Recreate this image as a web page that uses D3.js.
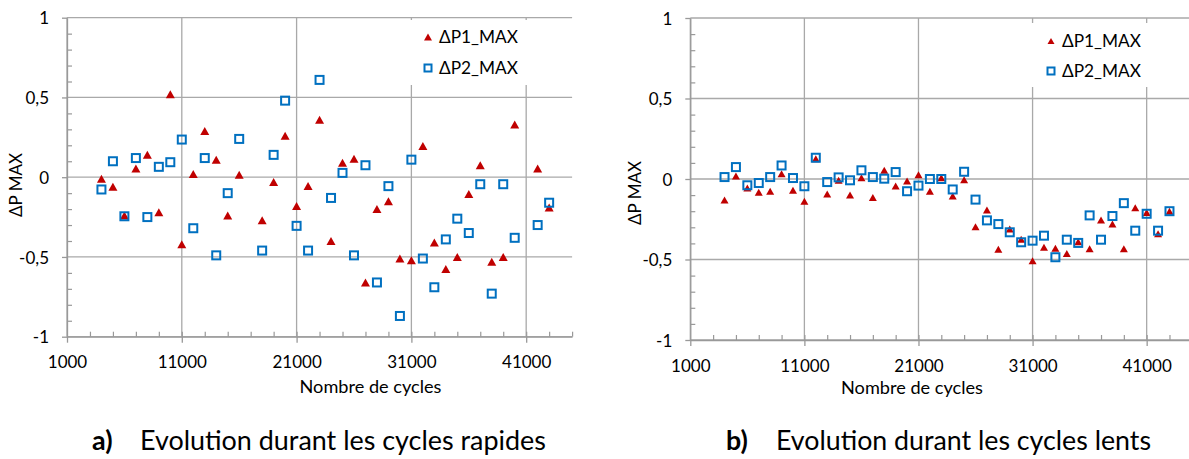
<!DOCTYPE html>
<html>
<head>
<meta charset="utf-8">
<script src="https://cdn.jsdelivr.net/npm/d3@7"></script>
<style>
  html, body { margin: 0; padding: 0; background: #fff; }
  svg { display: block; font-family: Lato, "Open Sans", sans-serif; }
</style>
</head>
<body>
<svg id="chart" width="1189" height="459"></svg>
<script>
// ---------- data ----------
const xTickValues = [1000, 11000, 21000, 31000, 41000];
const yTickValues = [-1, -0.5, 0, 0.5, 1];
const seriesNames = ["\u0394P1_MAX", "\u0394P2_MAX"];
const xTitle = "Nombre de cycles";
const yTitle = "\u0394P MAX";

// (a) fast cycles
const cyclesA = [4000, 5000, 6000, 7000, 8000, 9000, 10000, 11000, 12000, 13000, 14000, 15000, 16000,
  18000, 19000, 20000, 21000, 22000, 23000, 24000, 25000, 26000, 27000, 28000, 29000, 30000,
  31000, 32000, 33000, 34000, 35000, 36000, 37000, 38000, 39000, 40000, 42000, 43000];
const p1A = [-0.01, -0.06, -0.24, 0.055, 0.14, -0.22, 0.52, -0.42, 0.02, 0.29, 0.11, -0.24, 0.015,
  -0.27, -0.03, 0.26, -0.18, -0.055, 0.36, -0.40, 0.09, 0.115, -0.66, -0.20, -0.15, -0.51,
  -0.52, 0.195, -0.41, -0.575, -0.50, -0.105, 0.075, -0.53, -0.50, 0.33, 0.055, -0.19];
const p2A = [-0.077, 0.10, -0.245, 0.12, -0.25, 0.065, 0.094, 0.236, -0.32, 0.12, -0.49, -0.10, 0.24,
  -0.46, 0.14, 0.48, -0.305, -0.46, 0.61, -0.13, 0.027, -0.49, 0.075, -0.66, -0.056, -0.87,
  0.11, -0.51, -0.69, -0.39, -0.26, -0.35, -0.044, -0.73, -0.044, -0.38, -0.30, -0.16];

// (b) slow cycles
const cyclesB = [4000, 5000, 6000, 7000, 8000, 9000, 10000, 11000, 12000, 13000, 14000, 15000, 16000,
  17000, 18000, 19000, 20000, 21000, 22000, 23000, 24000, 25000, 26000, 27000, 28000, 29000,
  30000, 31000, 32000, 33000, 34000, 35000, 36000, 37000, 38000, 39000, 40000, 41000, 42000, 43000];
const p1B = [-0.13, 0.019, -0.056, -0.082, -0.076, 0.033, -0.07, -0.138, 0.126, -0.093, -0.008, -0.10, 0.008,
  -0.115, 0.054, -0.043, -0.012, 0.027, -0.076, 0.007, -0.105, -0.004, -0.296, -0.193, -0.436, -0.311,
  -0.374, -0.508, -0.424, -0.43, -0.463, -0.389, -0.434, -0.255, -0.28, -0.434, -0.179, -0.208, -0.34, -0.20];
const p2B = [0.012, 0.074, -0.039, -0.025, 0.012, 0.084, 0.006, -0.045, 0.132, -0.019, 0.01, -0.008, 0.054,
  0.012, 0.002, 0.043, -0.076, -0.041, 0.0, 0.0, -0.065, 0.045, -0.128, -0.257, -0.28, -0.331,
  -0.393, -0.383, -0.352, -0.486, -0.377, -0.397, -0.226, -0.377, -0.23, -0.15, -0.321, -0.216, -0.321, -0.20];

const captionA = ["a)", "Evolution durant les cycles rapides"];
const captionB = ["b)", "Evolution durant les cycles lents"];

// ---------- drawing ----------
const svg = d3.select("#chart");
const RED = "#c00000", BLUE = "#0070c0", GRID = "#a9a9a9", AXIS = "#999999";

function fitWidth(sel, target) {
  const node = sel.node();
  const fs = parseFloat(sel.attr("font-size"));
  const w = node.getComputedTextLength();
  if (w > 0) sel.attr("font-size", (fs * target / w).toFixed(2));
}

function fmtY(d) { return d === 0 ? "0" : String(d).replace(".", ","); }

function triPath(cx, cy, w, h) {
  return `M${cx},${cy - h / 2}L${cx + w / 2},${cy + h / 2}L${cx - w / 2},${cy + h / 2}Z`;
}

function drawChart(cfg) {
  const g = svg.append("g");
  const x = d3.scaleLinear().domain([1000, 45000]).range([cfg.x0, cfg.x1]);
  const y = d3.scaleLinear().domain([-1, 1]).range([cfg.y1, cfg.y0]);

  // gridlines
  g.append("g").selectAll("line").data(yTickValues).join("line")
    .attr("x1", cfg.x0).attr("x2", cfg.x1)
    .attr("y1", d => y(d)).attr("y2", d => y(d))
    .attr("stroke", GRID).attr("stroke-width", 1.3);
  g.append("g").selectAll("line").data(xTickValues).join("line")
    .attr("x1", d => x(d)).attr("x2", d => x(d))
    .attr("y1", cfg.y0).attr("y2", cfg.y1)
    .attr("stroke", GRID).attr("stroke-width", 1.3);

  // minor ticks (inside)
  const xMinor = d3.range(3000, 45001, 2000);
  const yMinor = d3.range(-9, 10).filter(v => v % 5 !== 0).map(v => v / 10);
  g.append("g").attr("transform", `translate(0,${cfg.y1})`)
    .call(d3.axisBottom(x).tickValues(xMinor).tickSize(-5).tickSizeOuter(0).tickFormat(""))
    .call(s => s.select(".domain").remove())
    .call(s => s.selectAll("line").attr("stroke", AXIS).attr("stroke-width", 1.2));
  g.append("g").attr("transform", `translate(${cfg.x0},0)`)
    .call(d3.axisLeft(y).tickValues(yMinor).tickSize(-5).tickSizeOuter(0).tickFormat(""))
    .call(s => s.select(".domain").remove())
    .call(s => s.selectAll("line").attr("stroke", AXIS).attr("stroke-width", 1.2));

  // major axes
  g.append("g").attr("transform", `translate(0,${cfg.y1})`)
    .call(d3.axisBottom(x).tickValues(xTickValues).tickSize(6).tickSizeOuter(0).tickFormat(d3.format("d")))
    .call(s => s.select(".domain").attr("stroke", AXIS).attr("stroke-width", 1.3))
    .call(s => s.selectAll(".tick line").attr("stroke", AXIS).attr("stroke-width", 1.3))
    .call(s => s.selectAll("text").attr("font-family", "Lato").attr("font-size", 17)
      .attr("fill", "#000").attr("dy", 0).attr("y", cfg.xLabelBase));
  g.append("g").attr("transform", `translate(${cfg.x0},0)`)
    .call(d3.axisLeft(y).tickValues(yTickValues).tickSize(5).tickSizeOuter(0).tickFormat(fmtY).tickPadding(13))
    .call(s => s.select(".domain").attr("stroke", AXIS).attr("stroke-width", 1.3))
    .call(s => s.selectAll(".tick line").attr("stroke", AXIS).attr("stroke-width", 1.3))
    .call(s => s.selectAll("text").attr("font-family", "Lato").attr("font-size", 17)
      .attr("fill", "#000").attr("dy", "0.36em"));

  // axis titles
  const xt = g.append("text").attr("x", cfg.xTitleX).attr("y", cfg.xTitleY)
    .attr("font-size", 17).attr("text-anchor", "middle").attr("fill", "#000").text(xTitle);
  fitWidth(xt, 142);
  const yt = g.append("text").attr("transform", `translate(${cfg.yTitleX},${cfg.yTitleY}) rotate(-90)`)
    .attr("font-size", 16).attr("text-anchor", "middle").attr("fill", "#000").text(yTitle);
  fitWidth(yt, 64);

  // legend box
  g.append("rect").attr("x", cfg.leg.bx).attr("y", cfg.leg.by).attr("width", cfg.leg.bw).attr("height", cfg.leg.bh)
    .attr("fill", "#fff");

  // series 1 triangles
  g.append("g").selectAll("path").data(cfg.cycles).join("path")
    .attr("d", (c, i) => triPath(x(c), y(cfg.p1[i]), cfg.tw, cfg.th))
    .attr("fill", RED);
  // series 2 squares
  g.append("g").selectAll("rect").data(cfg.cycles).join("rect")
    .attr("x", (c) => x(c) - 4).attr("y", (c, i) => y(cfg.p2[i]) - 4)
    .attr("width", 8).attr("height", 8)
    .attr("fill", "none").attr("stroke", BLUE).attr("stroke-width", 2);

  // legend entries
  g.append("path").attr("d", triPath(cfg.leg.mx, cfg.leg.my1, cfg.tw - 1, cfg.th - 1)).attr("fill", RED);
  g.append("rect").attr("x", cfg.leg.mx - 3.5).attr("y", cfg.leg.my2 - 3.5).attr("width", 7).attr("height", 7)
    .attr("fill", "none").attr("stroke", BLUE).attr("stroke-width", 2);
  const l1 = g.append("text").attr("x", cfg.leg.tx).attr("y", cfg.leg.ty1).attr("font-size", 17)
    .attr("fill", "#000").text(seriesNames[0]);
  fitWidth(l1, 79);
  const l2 = g.append("text").attr("x", cfg.leg.tx).attr("y", cfg.leg.ty2).attr("font-size", 17)
    .attr("fill", "#000").text(seriesNames[1]);
  fitWidth(l2, 79);

  // caption
  const ct = g.append("text").attr("x", cfg.cap.tx).attr("y", 450).attr("font-size", 22)
    .attr("fill", "#000").text(cfg.caption[1]);
  fitWidth(ct, cfg.cap.tw);
  g.append("text").attr("x", cfg.cap.lx).attr("y", 450).attr("font-size", ct.attr("font-size"))
    .attr("font-weight", "bold").attr("fill", "#000").text(cfg.caption[0]);
}

drawChart({
  x0: 67, x1: 572.1, y0: 17.7, y1: 336.7,
  xLabelBase: 31, xTitleX: 370.5, xTitleY: 393, yTitleX: 22, yTitleY: 185,
  cycles: cyclesA, p1: p1A, p2: p2A, tw: 9, th: 8,
  leg: { bx: 404, by: 20, bw: 132, bh: 65, mx: 428, my1: 37, my2: 68, tx: 439, ty1: 43, ty2: 74 },
  caption: captionA, cap: { lx: 92, tx: 140, tw: 406 }
});
drawChart({
  x0: 690.3, x1: 1192.3, y0: 18, y1: 340,
  xLabelBase: 32, xTitleX: 912, xTitleY: 394, yTitleX: 641, yTitleY: 193,
  cycles: cyclesB, p1: p1B, p2: p2B, tw: 8, th: 7,
  leg: { bx: 1028, by: 23, bw: 125, bh: 64, mx: 1051, my1: 41, my2: 71, tx: 1062, ty1: 47, ty2: 77 },
  caption: captionB, cap: { lx: 726, tx: 776, tw: 375 }
});
</script>
</body>
</html>
